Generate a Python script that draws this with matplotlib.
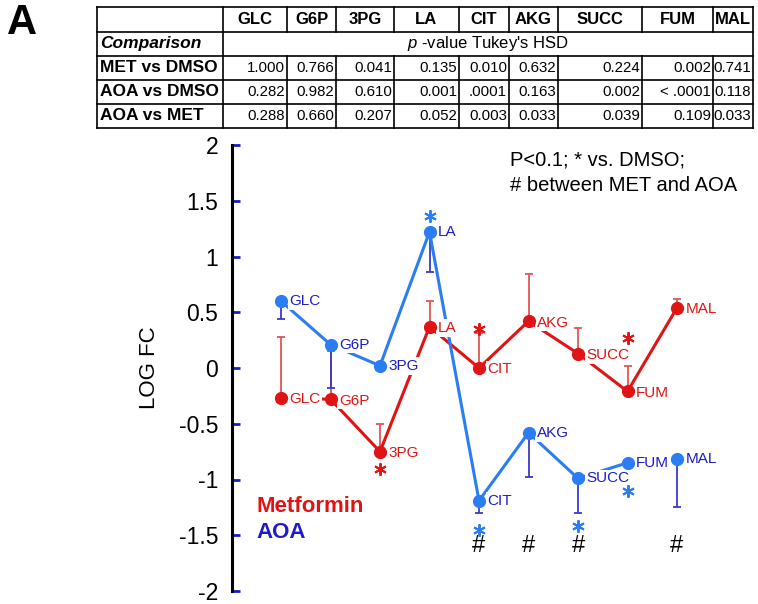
import matplotlib
matplotlib.use('Agg')
import matplotlib.pyplot as plt
import numpy as np

plt.rcParams['font.family'] = ['Liberation Sans', 'DejaVu Sans']
plt.rcParams['mathtext.fontset'] = 'custom'
plt.rcParams['mathtext.rm'] = 'Liberation Sans'
plt.rcParams['mathtext.it'] = 'Liberation Sans:italic'

# metabolites and log fold changes
metabolites = ['GLC', 'G6P', '3PG', 'LA', 'CIT', 'AKG', 'SUCC', 'FUM', 'MAL']
met_fc = [-0.27, -0.28, -0.75, 0.37, 0.00, 0.42, 0.13, -0.21, 0.54]
met_err_up = [0.55, 0.43, 0.25, 0.23, 0.31, 0.42, 0.23, 0.23, 0.08]
aoa_fc = [0.60, 0.21, 0.02, 1.22, -1.19, -0.58, -0.99, -0.85, -0.82]
aoa_err_down = [0.16, 0.39, 0.0, 0.36, 0.11, 0.40, 0.31, 0.0, 0.43]

# significance marks (index, y)
met_stars = [(2, -0.91), (4, 0.35), (7, 0.27)]
aoa_stars = [(3, 1.36), (4, -1.45), (6, -1.42), (7, -1.10)]
hash_idx = [4, 5, 6, 8]
hash_y = -1.60

# p-value table
table_cols = ['GLC', 'G6P', '3PG', 'LA', 'CIT', 'AKG', 'SUCC', 'FUM', 'MAL']
table_rows = ['MET vs DMSO', 'AOA vs DMSO', 'AOA vs MET']
p_met_dmso = ['1.000', '0.766', '0.041', '0.135', '0.010', '0.632', '0.224', '0.002', '0.741']
p_aoa_dmso = ['0.282', '0.982', '0.610', '0.001', '.0001', '0.163', '0.002', '< .0001', '0.118']
p_aoa_met = ['0.288', '0.660', '0.207', '0.052', '0.003', '0.033', '0.039', '0.109', '0.033']

RED = '#e01414'
RED_ERR = '#e25555'
BLUE = '#2a7df2'
BLUE_TXT = '#1c1cc8'
BLUE_ERR = '#3a3ac8'

W, H = 758, 604
fig = plt.figure(figsize=(W / 100, H / 100), dpi=100)

# overlay in pixel coordinates for table and free text
ax_t = fig.add_axes([0, 0, 1, 1], zorder=0)
ax_t.set_xlim(0, W)
ax_t.set_ylim(H, 0)
ax_t.axis('off')

col_edges = [97, 223, 287, 336, 394, 459, 509, 558, 642, 713, 753]
row_edges = [7, 31.5, 56, 80, 104, 128]
lw = 1.2
for y in row_edges:
    ax_t.plot([col_edges[0], col_edges[-1]], [y, y], color='black', lw=lw)
for i, x in enumerate(col_edges):
    if i in (0, 1, len(col_edges) - 1):
        ax_t.plot([x, x], [row_edges[0], row_edges[-1]], color='black', lw=lw)
    else:
        ax_t.plot([x, x], [row_edges[0], row_edges[1]], color='black', lw=lw)
        ax_t.plot([x, x], [row_edges[2], row_edges[-1]], color='black', lw=lw)

for j, name in enumerate(table_cols):
    xc = (col_edges[j + 1] + col_edges[j + 2]) / 2
    ax_t.text(xc, (row_edges[0] + row_edges[1]) / 2, name, ha='center', va='center',
              fontsize=12, fontweight='bold')
ax_t.text(col_edges[0] + 3, (row_edges[1] + row_edges[2]) / 2, 'Comparison',
          ha='left', va='center', fontsize=12.5, fontweight='bold', style='italic')
ax_t.text((col_edges[1] + col_edges[-1]) / 2, (row_edges[1] + row_edges[2]) / 2,
          r"$\mathit{p}$ -value Tukey's HSD", ha='center', va='center', fontsize=12)
for r, (lab, vals) in enumerate(zip(table_rows, [p_met_dmso, p_aoa_dmso, p_aoa_met])):
    yc = (row_edges[r + 2] + row_edges[r + 3]) / 2
    ax_t.text(col_edges[0] + 3, yc, lab, ha='left', va='center', fontsize=12.5, fontweight='bold')
    for j, v in enumerate(vals):
        ax_t.text(col_edges[j + 2] - 2, yc, v, ha='right', va='center', fontsize=10.8)

ax_t.text(7, 23, 'A', fontsize=30, fontweight='bold', va='center', ha='left')
ax_t.text(510, 150, 'P<0.1; * vs. DMSO;\n# between MET and AOA', fontsize=14.5,
          va='top', ha='left', linespacing=1.45)
ax_t.text(256, 507, 'Metformin', color=RED, fontsize=16, fontweight='bold', va='center')
ax_t.text(256, 533, 'AOA', color=BLUE_TXT, fontsize=16, fontweight='bold', va='center')

# main chart
ax = fig.add_axes([232 / W, 1 - 591 / H, (W - 232) / W, (591 - 145) / H], zorder=1)
ax.patch.set_visible(False)
x = np.arange(len(metabolites))
x0 = 281
step = 49.5
ax.set_xlim(-(x0 - 232) / step, (W - x0) / step)
ax.set_ylim(-2, 2)

zeros = np.zeros(len(x))
ax.errorbar(x, met_fc, yerr=[zeros, met_err_up], fmt='none', ecolor=RED_ERR,
            elinewidth=1.3, capsize=3, capthick=1.3, zorder=2)
ax.errorbar(x, aoa_fc, yerr=[aoa_err_down, zeros], fmt='none', ecolor=BLUE_ERR,
            elinewidth=1.3, capsize=3, capthick=1.3, zorder=2)
ax.plot(x, met_fc, color=RED, lw=2.2, zorder=3)
ax.plot(x, aoa_fc, color=BLUE, lw=2.2, zorder=3)
ax.plot(x, met_fc, 'o', color=RED, ms=8.5, zorder=5)
ax.plot(x, aoa_fc, 'o', color=BLUE, ms=8.5, zorder=5)

box = dict(boxstyle='square,pad=0.12', fc='white', ec='none')
for i, name in enumerate(metabolites):
    ax.annotate(name, (x[i], met_fc[i]), xytext=(6, -1), textcoords='offset points',
                ha='left', va='center', fontsize=11, color=RED, bbox=box, zorder=4)
    ax.annotate(name, (x[i], aoa_fc[i]), xytext=(6, 0), textcoords='offset points',
                ha='left', va='center', fontsize=11, color=BLUE_TXT, bbox=box, zorder=4)

# asterisks as 6-spoke markers
ast = (6, 2, 0)
ax.plot([x[i] for i, _ in met_stars], [y for _, y in met_stars], ls='none', marker=ast,
        ms=9, mew=1.4, color=RED, zorder=6)
ax.plot([x[i] for i, _ in aoa_stars], [y for _, y in aoa_stars], ls='none', marker=ast,
        ms=9, mew=1.4, color=BLUE, zorder=6)
for i in hash_idx:
    ax.text(x[i], hash_y, '#', color='black', fontsize=17, ha='center', va='center', zorder=6)

for s in ['top', 'right', 'bottom']:
    ax.spines[s].set_visible(False)
ax.spines['left'].set_linewidth(2.2)
ax.set_xticks([])
ticks = [-2, -1.5, -1, -0.5, 0, 0.5, 1, 1.5, 2]
ax.set_yticks(ticks)
ax.set_yticklabels(['-2', '-1.5', '-1', '-0.5', '0', '0.5', '1', '1.5', '2'])
ax.tick_params(axis='y', direction='in', length=6, width=2, color=BLUE_TXT,
               labelsize=16.5, pad=10)
ax.set_ylabel('LOG FC', fontsize=16)
ax.yaxis.set_label_coords(-0.137, 0.5)

fig.savefig('out.png', dpi=100)
